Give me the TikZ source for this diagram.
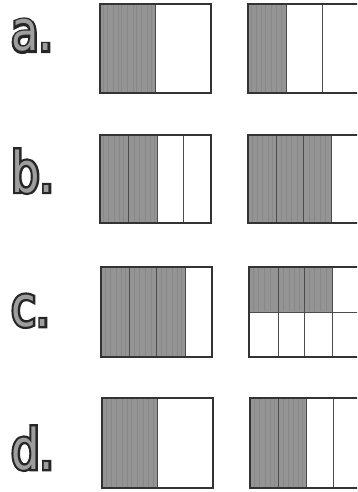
\documentclass[tikz,border=0pt]{standalone}
\usepackage{fontspec}
\newfontfamily\labelfont[FakeStretch=0.8]{DejaVu Sans}
\newfontfamily\labeledgefont[FakeStretch=0.8,FakeBold=8]{DejaVu Sans}
\begin{document}
\begin{tikzpicture}[x=1pt,y=-1pt,
    frame/.style={draw=black!80, line width=1.5pt},
    divider/.style={draw=black!70, line width=1pt},
    shaded/.style={fill=black!42},
    grain/.style={draw=black!55, line width=0.6pt, opacity=0.35},
    letteredge/.style={anchor=base west, inner sep=0pt, text=black!85,
        font=\labeledgefont\fontsize{56}{56}\selectfont},
    letterface/.style={anchor=base west, inner sep=0pt, text=black!38,
        font=\labelfont\fontsize{56}{56}\selectfont}]
    \useasboundingbox (0,0) rectangle (357,492);
    \clip (0,0) rectangle (357,492);

    % Labels
    \foreach \t/\y in {a/51,b/192,c/326,d/469} {
        \node[letteredge] (lbl\t-edge) at (11,\y) {\t.};
        \node[letterface] (lbl\t) at (11,\y) {\t.};
    }

    % Row a: halves and thirds
    \fill[shaded] (100,4) rectangle (155,93);
    \fill[shaded] (248,4) rectangle (286,93);
    \foreach \x in {103,107,113,118,121,127,133,136,141,147,151} \draw[grain] (\x,5) -- (\x,92);
    \foreach \x in {251,256,261,265,271,276,281} \draw[grain] (\x,5) -- (\x,92);
    \draw[divider] (155,4) -- (155,93);
    \draw[divider] (286,4) -- (286,93);
    \draw[divider] (322,4) -- (322,93);
    \draw[frame] (100,4) rectangle (211,93);
    \draw[frame] (248,4) rectangle (359,93);

    % Row b: half and three quarters
    \fill[shaded] (100,135) rectangle (157,223);
    \fill[shaded] (248,135) rectangle (331,223);
    \foreach \x in {103,108,114,119,123,134,139,145,150,154} \draw[grain] (\x,136) -- (\x,222);
    \foreach \x in {252,257,262,268,272,281,286,291,297,309,314,320,325} \draw[grain] (\x,136) -- (\x,222);
    \foreach \x in {128,157,183} \draw[divider] (\x,135) -- (\x,223);
    \foreach \x in {276,303,331} \draw[divider] (\x,135) -- (\x,223);
    \draw[frame] (100,135) rectangle (211,223);
    \draw[frame] (248,135) rectangle (359,223);

    % Row c: three quarters and three eighths
    \fill[shaded] (101,267) rectangle (185,357);
    \fill[shaded] (249,267) rectangle (332,312);
    \foreach \x in {105,110,116,121,125,134,139,145,151,161,166,172,177,181} \draw[grain] (\x,268) -- (\x,356);
    \foreach \x in {253,258,264,270,283,289,294,299,309,314,320,326} \draw[grain] (\x,268) -- (\x,311);
    \foreach \x in {129,156,185} \draw[divider] (\x,267) -- (\x,357);
    \foreach \x in {278,304,332} \draw[divider] (\x,267) -- (\x,357);
    \draw[divider] (249,312) -- (359,312);
    \draw[frame] (101,267) rectangle (212,357);
    \draw[frame] (249,267) rectangle (360,357);

    % Row d: half and two quarters
    \fill[shaded] (102,398) rectangle (157,488);
    \fill[shaded] (250,398) rectangle (306,488);
    \foreach \x in {106,111,116,122,127,131,137,143,148,153} \draw[grain] (\x,399) -- (\x,487);
    \foreach \x in {254,259,265,270,274,283,288,293,298,302} \draw[grain] (\x,399) -- (\x,487);
    \draw[divider] (157,398) -- (157,488);
    \foreach \x in {278,306,333} \draw[divider] (\x,398) -- (\x,488);
    \draw[frame] (102,398) rectangle (213,488);
    \draw[frame] (250,398) rectangle (361,488);
\end{tikzpicture}
\end{document}
